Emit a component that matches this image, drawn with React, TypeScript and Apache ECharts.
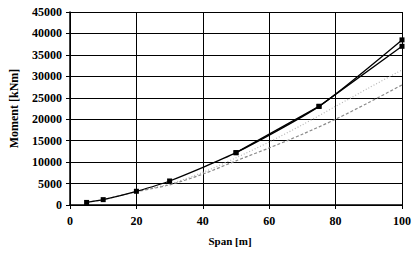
import React, { useEffect, useRef } from "react";
import * as echarts from "echarts";

// Span [m] / Moment [kNm]
const spanMain = [5, 10, 20, 30, 50, 75, 100];
const momentMain = [600, 1250, 3200, 5600, 12200, 23000, 38500];

const spanSecond = [50, 75, 100];
const momentSecond = [12200, 23000, 37000];

const spanDashed = [5, 10, 20, 30, 40, 50, 60, 70, 80, 90, 100];
const momentDashed = [600, 1250, 3100, 4700, 7200, 10300, 13300, 16500, 20000, 23900, 28000];

const spanDotted = [20, 30, 40, 50, 60, 70, 80, 90, 100];
const momentDotted = [3200, 4900, 7600, 11000, 14700, 18700, 23000, 27300, 31500];

const xTicks = [0, 20, 40, 60, 80, 100];
const yMax = 45000;
const yStep = 5000;

const zip = (xs: number[], ys: number[]) => xs.map((x, i) => [x, ys[i]]);

export default function App() {
  const ref = useRef<HTMLDivElement>(null);
  useEffect(() => {
    if (!ref.current) return;
    const chart = echarts.init(ref.current, null, { renderer: "svg" });
    const font = "Liberation Serif";
    chart.setOption({
      animation: false,
      backgroundColor: "#ffffff",
      grid: { left: 62, right: 8, top: 12, bottom: 52, containLabel: false },
      xAxis: {
        type: "value",
        min: xTicks[0],
        max: xTicks[xTicks.length - 1],
        interval: 20,
        name: "Span [m]",
        nameLocation: "middle",
        nameGap: 30,
        nameTextStyle: { fontFamily: font, fontWeight: "bold", fontSize: 11, color: "#000", padding: [0, 12, 0, 0] },
        axisLine: { show: true, lineStyle: { color: "#000", width: 1.5 } },
        axisTick: { show: true, inside: false, length: 4, lineStyle: { color: "#000" } },
        axisLabel: {
          fontFamily: font,
          fontWeight: "bold",
          fontSize: 12,
          color: "#000",
          margin: 10,
          formatter: (v: number) => String(v),
        },
        splitLine: { show: true, lineStyle: { color: "#000", width: 1 } },
      },
      yAxis: {
        type: "value",
        min: 0,
        max: yMax,
        interval: yStep,
        name: "Moment [kNm]",
        nameLocation: "middle",
        nameGap: 50,
        nameTextStyle: { fontFamily: font, fontWeight: "bold", fontSize: 12, color: "#000" },
        axisLine: { show: true, lineStyle: { color: "#000", width: 1.5 } },
        axisTick: { show: true, inside: false, length: 4, lineStyle: { color: "#000" } },
        axisLabel: {
          fontFamily: font,
          fontWeight: "bold",
          fontSize: 12,
          color: "#000",
          margin: 8,
          formatter: (v: number) => String(v),
        },
        splitLine: { show: true, lineStyle: { color: "#000", width: 1 } },
      },
      series: [
        {
          type: "line",
          data: zip(spanDotted, momentDotted),
          smooth: 0.3,
          symbol: "none",
          lineStyle: { color: "#b5b5b5", width: 1.2, type: [1, 2] },
          z: 2,
        },
        {
          type: "line",
          data: zip(spanDashed, momentDashed),
          smooth: 0.3,
          symbol: "none",
          lineStyle: { color: "#8a8a8a", width: 1.2, type: [3, 2] },
          z: 3,
        },
        {
          type: "line",
          data: zip(spanSecond, momentSecond),
          symbol: "rect",
          symbolSize: 5,
          showSymbol: true,
          itemStyle: { color: "#000" },
          lineStyle: { color: "#000", width: 1.3 },
          z: 4,
        },
        {
          type: "line",
          data: zip(spanMain, momentMain),
          smooth: 0.2,
          symbol: "rect",
          symbolSize: 5,
          itemStyle: { color: "#000" },
          lineStyle: { color: "#000", width: 1.3 },
          z: 5,
        },
      ],
    });
    return () => chart.dispose();
  }, []);
  return <div ref={ref} style={{ width: 414, height: 257, position: "absolute", left: 0, top: 0 }} />;
}
